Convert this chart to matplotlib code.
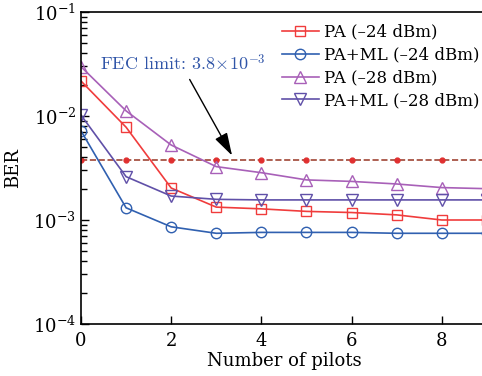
import matplotlib
matplotlib.use("Agg")
import matplotlib.pyplot as plt
from matplotlib.ticker import LogLocator, NullFormatter

plt.rcParams['font.family'] = ['DejaVu Serif']
plt.rcParams['mathtext.fontset'] = 'cm'

pilots = [0, 1, 2, 3, 4, 5, 6, 7, 8, 9]
pa_24 = [2.17e-2, 7.8e-3, 2.03e-3, 1.33e-3, 1.28e-3, 1.21e-3, 1.18e-3, 1.12e-3, 1.0e-3, 1.0e-3]
paml_24 = [7.2e-3, 1.31e-3, 8.6e-4, 7.45e-4, 7.6e-4, 7.6e-4, 7.6e-4, 7.45e-4, 7.45e-4, 7.45e-4]
pa_28 = [2.98e-2, 1.12e-2, 5.26e-3, 3.26e-3, 2.85e-3, 2.43e-3, 2.35e-3, 2.22e-3, 2.05e-3, 2.0e-3]
paml_28 = [1.02e-2, 2.61e-3, 1.70e-3, 1.58e-3, 1.56e-3, 1.56e-3, 1.56e-3, 1.56e-3, 1.56e-3, 1.56e-3]
fec = 3.8e-3

fig = plt.figure(figsize=(4.82, 3.76), dpi=100)
ax = fig.add_axes([81/482, 1-324/376, 1-81/482 + 0.01, (324-12)/376])

ax.plot(pilots, [fec]*len(pilots), '--', color='#a04535', lw=1.2, zorder=1)
ax.plot(pilots, [fec]*len(pilots), 'o', color='#e03030', ms=3.5, zorder=1)

ax.plot(pilots, pa_24, '-s', color='#f03c3c', mfc='none', ms=7.5, lw=1.2, label='PA (–24 dBm)')
ax.plot(pilots, paml_24, '-o', color='#3060b0', mfc='none', ms=7.5, lw=1.2, label='PA+ML (–24 dBm)')
ax.plot(pilots, pa_28, '-^', color='#a860b8', mfc='none', ms=8.5, lw=1.2, label='PA (–28 dBm)')
ax.plot(pilots, paml_28, '-v', color='#6050a8', mfc='none', ms=8.5, lw=1.2, label='PA+ML (–28 dBm)')

ax.annotate('', xy=(3.38, 3.95e-3), xytext=(2.38, 2.37e-2),
            arrowprops=dict(arrowstyle='-|>,head_length=1.0,head_width=0.3', color='black',
                            lw=1.0, mutation_scale=14))
ax.text(0.42, 3.2e-2, r'FEC limit: $3.8\!\times\!10^{-3}$', color='#3055a8',
        fontsize=13, va='center', fontfamily='cmr10')

ax.set_yscale('log')
ax.set_ylim(1e-4, 1e-1)
ax.set_xlim(0, 9.0)
ax.set_xticks([0, 2, 4, 6, 8])
ax.yaxis.set_major_locator(LogLocator(base=10, numticks=10))
ax.yaxis.set_minor_locator(LogLocator(base=10, subs=range(2, 10), numticks=10))
ax.yaxis.set_minor_formatter(NullFormatter())
ax.tick_params(direction='in', labelsize=13, length=6, width=1)
ax.tick_params(which='minor', direction='in', length=4, width=1)
ax.tick_params(axis='x', pad=6)
for s in ax.spines.values():
    s.set_linewidth(1.2)

ax.set_xlabel('Number of pilots', fontsize=13, labelpad=1)
ax.set_ylabel('BER', fontsize=13, labelpad=8)

ax.legend(loc='upper right', bbox_to_anchor=(1.01, 1.0), frameon=False, fontsize=12,
          handlelength=2.2, handletextpad=0.3, labelspacing=0.35, borderaxespad=0.3)

fig.savefig('out.png', dpi=100)
